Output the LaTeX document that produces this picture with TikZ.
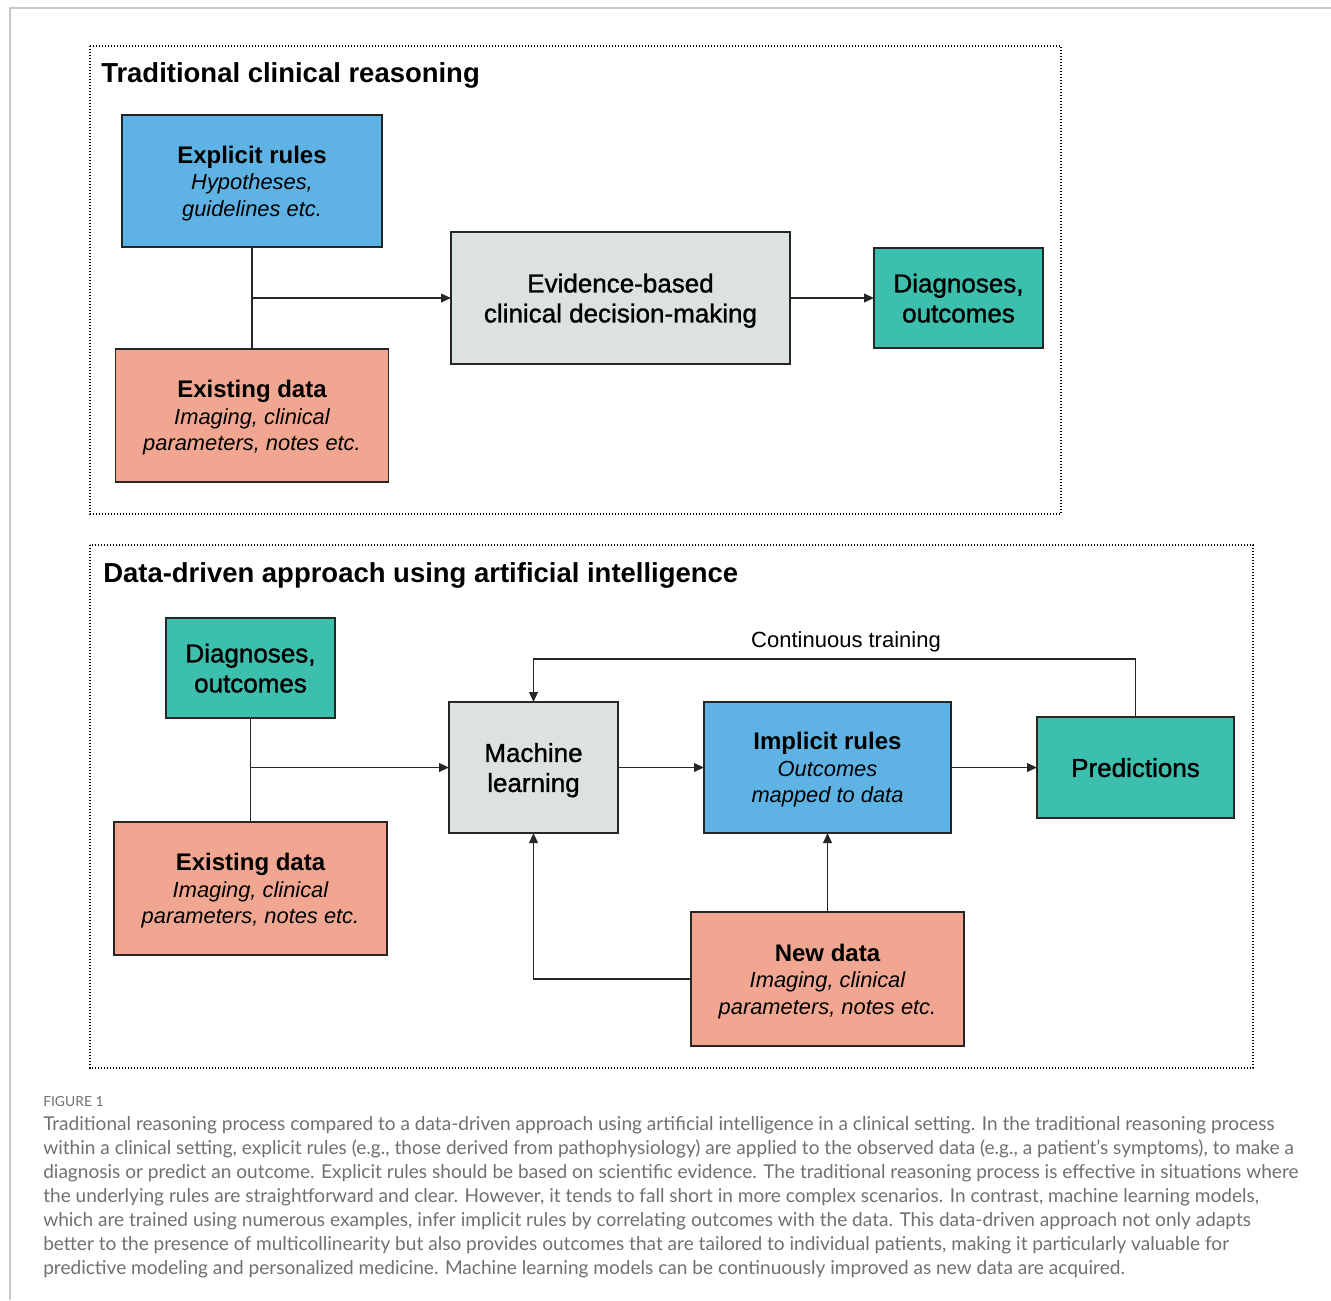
\documentclass[tikz,border=0pt]{standalone}
\usepackage{fontspec}
\setmainfont{Liberation Sans}
\newfontfamily\medfont[FakeBold=1.2]{Liberation Sans}
\newfontfamily\capfont{Lato}
\usepackage{tikz}
\usetikzlibrary{positioning,arrows.meta}
\definecolor{rulesblue}{RGB}{94,179,228}
\definecolor{datasalmon}{RGB}{240,166,144}
\definecolor{procgray}{RGB}{220,226,225}
\definecolor{outteal}{RGB}{61,191,174}
\definecolor{capgray}{RGB}{112,112,112}
\definecolor{framegray}{RGB}{200,200,200}
\newcommand{\boxtitle}[1]{{\upshape\bfseries\fontsize{18}{20}\selectfont #1}}

\begin{document}
\begin{tikzpicture}[x=0.75pt, y=-0.75pt,
	box/.style={draw=black!85, line width=1.25pt, align=center, inner sep=0pt, outer sep=0pt, text depth=0pt},
	plain/.style={box, font=\medfont\fontsize{19.5}{22.5}\selectfont},
	detail/.style={box, font=\fontsize{16.4}{20}\selectfont\itshape, execute at begin node={\rule{0pt}{16pt}}},
	heading/.style={anchor=base west, inner sep=0pt, font=\fontsize{20.6}{24}\selectfont\bfseries},
	panel/.style={line width=0.9pt, dash pattern=on 0.9pt off 1.35pt},
	link/.style={line width=1.3pt, black!85},
	flow/.style={link, -{Triangle[length=7.5pt,width=6.5pt]}}]
	\useasboundingbox (0,0) rectangle (1331,1300);
	\draw[framegray, line width=1.1pt] (1331,8) -- (10,8) -- (10,1300);

	\draw[panel] (90,46) rectangle (1061,514);
	\node[heading] (title1) at (101,82) {Traditional clinical reasoning};
	\node[detail, fill=rulesblue, minimum width=195pt, minimum height=99pt] (rules1) at (252,181) {\boxtitle{Explicit rules}\\Hypotheses,\\guidelines etc.};
	\node[detail, fill=datasalmon, minimum width=204.75pt, minimum height=99.75pt] (exist1) [below=76.5pt of rules1] {\boxtitle{Existing data}\\Imaging, clinical\\parameters, notes etc.};
	\node[plain, fill=procgray, minimum width=254.25pt, minimum height=99pt] (ebm) at (620.5,298) {Evidence-based\\clinical decision-making};
	\node[plain, fill=outteal, minimum width=126.75pt, minimum height=75pt] (diag1) [right=63pt of ebm] {Diagnoses,\\outcomes};

	\draw[link] (rules1.south) -- (rules1.south |- exist1.north);
	\draw[flow] (rules1 |- ebm) -- (ebm);
	\draw[flow] (ebm) -- (diag1);

	\draw[panel] (90,545) rectangle (1253,1068);
	\node[heading] (title2) at (103,582) {Data-driven approach using artificial intelligence};
	\node[plain, fill=outteal, minimum width=126.75pt, minimum height=75pt] (diag2) at (250.5,668) {Diagnoses,\\outcomes};
	\node[detail, fill=datasalmon, minimum width=204.75pt, minimum height=99.75pt] (exist2) [below=78pt of diag2] {\boxtitle{Existing data}\\Imaging, clinical\\parameters, notes etc.};
	\node[plain, fill=procgray, minimum width=126.75pt, minimum height=98.25pt] (ml) at (533.5,767.5) {Machine\\learning};
	\node[detail, fill=rulesblue, minimum width=185.25pt, minimum height=98.25pt] (impl) [right=64.5pt of ml] {\boxtitle{Implicit rules}\\Outcomes\\mapped to data};
	\node[plain, fill=outteal, minimum width=147.75pt, minimum height=75.75pt] (pred) [right=64.5pt of impl] {Predictions};
	\node[detail, fill=datasalmon, minimum width=204.75pt, minimum height=100.5pt] (newd) [below=59.25pt of impl] {\boxtitle{New data}\\Imaging, clinical\\parameters, notes etc.};
	\coordinate (loop) at (846,659);
	\node[font=\fontsize{16.5}{19}\selectfont, inner sep=0pt] (cont) at (846,642) {Continuous training};

	\draw[link] (diag2.south) -- (diag2.south |- exist2.north);
	\draw[flow] (diag2 |- ml) -- (ml);
	\draw[flow] (ml) -- (impl);
	\draw[flow] (impl) -- (pred);
	\draw[flow] (pred.north) |- (loop) -| (ml.north);
	\draw[flow] (newd) -- (impl);
	\draw[flow] (newd.west) -| (ml.south);

	\node[anchor=base west, inner sep=0pt, text=capgray, font=\capfont\fontsize{10.4}{12}\selectfont] (figlabel) at (43,1106) {FIGURE 1};
	\node[anchor=north west, align=left, inner sep=0pt, text=capgray, font=\capfont\fontsize{14.3}{18}\selectfont] (caption) at (43,1116) {Traditional reasoning process compared to a data-driven approach using artificial intelligence in a clinical setting. In the traditional reasoning process\\
within a clinical setting, explicit rules (e.g., those derived from pathophysiology) are applied to the observed data (e.g., a patient’s symptoms), to make a\\
diagnosis or predict an outcome. Explicit rules should be based on scientific evidence. The traditional reasoning process is effective in situations where\\
the underlying rules are straightforward and clear. However, it tends to fall short in more complex scenarios. In contrast, machine learning models,\\
which are trained using numerous examples, infer implicit rules by correlating outcomes with the data. This data-driven approach not only adapts\\
better to the presence of multicollinearity but also provides outcomes that are tailored to individual patients, making it particularly valuable for\\
predictive modeling and personalized medicine. Machine learning models can be continuously improved as new data are acquired.};
\end{tikzpicture}
\end{document}
